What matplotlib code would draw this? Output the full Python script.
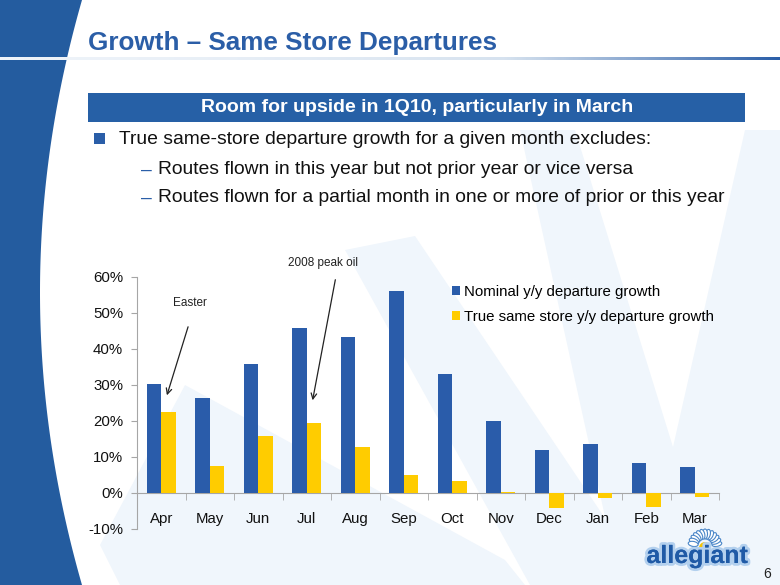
import numpy as np
import matplotlib
matplotlib.use("Agg")
import matplotlib.pyplot as plt
from matplotlib.patches import Polygon, Rectangle, Wedge, Ellipse
from matplotlib.colors import LinearSegmentedColormap
import matplotlib.patheffects as pe

plt.rcParams['font.family'] = ['Liberation Sans', 'DejaVu Sans']

# data
months = ['Apr', 'May', 'Jun', 'Jul', 'Aug', 'Sep', 'Oct', 'Nov', 'Dec', 'Jan', 'Feb', 'Mar']
nominal = [30.2, 26.3, 35.9, 45.9, 43.4, 56.1, 33.1, 20.1, 11.9, 13.6, 8.4, 7.1]
true_same_store = [22.4, 7.4, 15.8, 19.5, 12.8, 5.1, 3.4, 0.2, -4.2, -1.5, -3.9, -1.0]
series_names = ['Nominal y/y departure growth', 'True same store y/y departure growth']
yticks = [-10, 0, 10, 20, 30, 40, 50, 60]

title = 'Growth \u2013 Same Store Departures'
banner = 'Room for upside in 1Q10, particularly in March'
bullet = 'True same-store departure growth for a given month excludes:'
subs = ['Routes flown in this year but not prior year or vice versa',
        'Routes flown for a partial month in one or more of prior or this year']

BLUE = '#2a5caa'
YELLOW = '#ffcc00'
DARK = '#245c9f'
PALE = '#f0f6fc'

W, H = 780, 585
fig = plt.figure(figsize=(7.8, 5.85), dpi=100)

# background layer in pixel coords
bg = fig.add_axes([0, 0, 1, 1])
bg.axis('off')

# pale rays
for pts in [
    [(185, 385), (505, 560), (525, 585), (120, 585), (100, 545)],
    [(345, 250), (415, 236), (650, 585), (530, 585)],
    [(520, 130), (780, 130), (780, 585), (620, 585)],
]:
    bg.add_patch(Polygon(pts, closed=True, fc=PALE, ec='none', zorder=0))
bg.add_patch(Polygon([(575, 130), (745, 130), (673, 447)], closed=True, fc='white', ec='none', zorder=0.5))

# dark curved band on the left
ys = np.linspace(0, H, 100)
xs = 40 + 42 * ((ys - 292.5) / 292.5) ** 2
band = [(0, 0)] + list(zip(xs, ys)) + [(0, H)]
bg.add_patch(Polygon(band, closed=True, fc=DARK, ec='none', zorder=1))

# gradient rule under the title
cmap = LinearSegmentedColormap.from_list('rule', ['#eef3f9', '#d6e2ef', '#2a5ea8'])
grad = np.linspace(0, 1, 400) ** 1.6
bg.imshow(grad[None, :], cmap=cmap, extent=[0, W, 60, 57], aspect='auto', zorder=2)
bg.set_xlim(0, W)
bg.set_ylim(H, 0)

bg.text(88, 43, title, fontsize=18.8, fontweight='bold', color='#2b5ea7', va='center', ha='left', zorder=3)

# banner
bg.add_patch(Rectangle((88, 93), 657, 29, fc='#2660a6', ec='none', zorder=2))
bg.text(417, 108, banner, fontsize=14, fontweight='bold', color='white', ha='center', va='center', zorder=3)

# bullets
bg.add_patch(Rectangle((94, 133), 11, 11, fc='#2a5ea8', ec='none', zorder=2))
bg.text(119, 139, bullet, fontsize=13.9, color='#111111', va='center', ha='left', zorder=3)
for k, s in enumerate(subs):
    yy = 170 + 28 * k
    bg.text(141, yy, '\u2013', fontsize=13.9, color='#2a5ea8', va='center', ha='left', zorder=3)
    bg.text(158, yy, s, fontsize=13.9, color='#111111', va='center', ha='left', zorder=3)

# logo
for a in np.linspace(10, 170, 13):
    bg.add_patch(Ellipse((705 + 12 * np.cos(np.radians(a)), 546 - 12 * np.sin(np.radians(a))),
                         10, 5, angle=-a, fc='white', ec='#4a86c8', lw=0.8, zorder=3))
bg.add_patch(Wedge((705, 548), 6, 180, 360, fc='#f6c400', ec='none', zorder=4))
bg.text(697, 556, 'allegiant', fontsize=18, fontweight='bold', color='#1f5aa6', ha='center', va='center', zorder=5,
        path_effects=[pe.withStroke(linewidth=4, foreground='#b3d0ee'), pe.Normal()])
bg.text(767, 574, '6', fontsize=10, color='#222222', ha='center', va='center', zorder=5)

# chart
ax = fig.add_axes([137 / W, 1 - 529 / H, (719 - 137) / W, (529 - 277) / H])
ax.patch.set_alpha(0)
x = np.arange(len(months))
bw = 0.3
ax.bar(x - bw / 2, nominal, bw, color=BLUE, label=series_names[0], zorder=3)
ax.bar(x + bw / 2, true_same_store, bw, color=YELLOW, label=series_names[1], zorder=3)
ax.set_xlim(-0.5, len(months) - 0.5)
ax.set_ylim(-10, 60)
ax.set_yticks(yticks)
ax.set_yticklabels([f'{v}%' for v in yticks])
ax.set_xticks(x)
ax.set_xticklabels(months)
ax.set_xticks(np.arange(-0.5, len(months)), minor=True)
ax.tick_params(axis='x', which='major', length=0, pad=14, labelsize=10.8, colors='#111111')
ax.tick_params(axis='x', which='minor', length=5, color='#a6a6a6', direction='out')
ax.tick_params(axis='y', length=4, color='#a6a6a6', labelsize=10.8, labelcolor='#111111', pad=6)
for s in ['top', 'right']:
    ax.spines[s].set_visible(False)
ax.spines['bottom'].set_position(('data', 0))
ax.spines['bottom'].set_color('#a6a6a6')
ax.spines['left'].set_color('#a6a6a6')

ax.text(0.59, 52.8, 'Easter', fontsize=8.5, ha='center', va='center', color='#222222')
ax.annotate('', xy=(0.1, 26.4), xytext=(0.57, 46.9),
            arrowprops=dict(arrowstyle='->', color='#222222', lw=0.9))
ax.text(3.33, 63.9, '2008 peak oil', fontsize=8.5, ha='center', va='center', color='#222222', clip_on=False)
ax.annotate('', xy=(3.11, 25.0), xytext=(3.6, 60.0),
            arrowprops=dict(arrowstyle='->', color='#222222', lw=0.9), annotation_clip=False)

ax.legend(loc='upper left', bbox_to_anchor=(452 / W, 1 - 285 / H), bbox_transform=fig.transFigure,
          frameon=False, fontsize=10.8, handlelength=0.55, handleheight=0.55, handletextpad=0.25,
          labelspacing=0.75, borderpad=0, borderaxespad=0)

fig.savefig('out.png', dpi=100)
